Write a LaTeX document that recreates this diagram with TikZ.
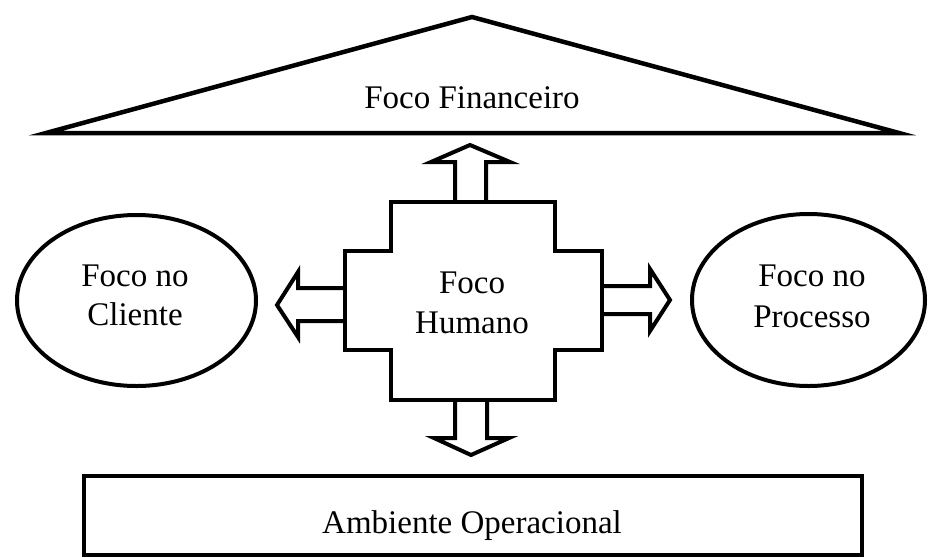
\documentclass[tikz,border=0pt]{standalone}
\usepackage{fontspec}
\setmainfont{Liberation Serif}
\usetikzlibrary{shapes.geometric}
\begin{document}
\begin{tikzpicture}[x=1pt,y=-1pt,
  lbl/.style={font=\fontsize{33}{39}\selectfont, anchor=base, inner sep=0pt, text=black},
  shapeline/.style={draw=black, line width=4.5pt, line join=miter},
  arrowline/.style={draw=black, line width=4pt, line join=miter},
  oval/.style={draw=black, ellipse, line width=4pt, inner sep=0pt}]
\useasboundingbox (0,0) rectangle (928,557);
\fill[white] (0,0) rectangle (928,557);

% Foco Financeiro (triangle)
\draw[shapeline] (46,133) -- (472,17) -- (899,133) -- cycle;
\node[lbl] (fin) at (472,108) {Foco Financeiro};

% Foco Humano (stepped cross)
\draw[shapeline] (391,202) -- (555,202) -- (555,251) -- (602,251) -- (602,350)
  -- (555,350) -- (555,400) -- (391,400) -- (391,350) -- (345,350) -- (345,251)
  -- (391,251) -- cycle;
\coordinate (hum) at (472,300);
\node[lbl] (hum1) at (472,293) {Foco};
\node[lbl] (hum2) at (472,333) {Humano};

% Foco no Cliente
\node[oval, minimum width=239pt, minimum height=171pt] (cli) at (136.5,300.5) {};
\node[lbl] (cli1) at (135,286) {Foco no};
\node[lbl] (cli2) at (135,325) {Cliente};

% Foco no Processo
\node[oval, minimum width=233pt, minimum height=172pt] (proc) at (808.5,300) {};
\node[lbl] (proc1) at (812,286) {Foco no};
\node[lbl] (proc2) at (812,327) {Processo};

% Ambiente Operacional
\draw[draw=black, line width=4pt] (84,476) rectangle (862,555);
\node[lbl] (amb) at (472,533) {Ambiente Operacional};

% block arrows
\draw[arrowline] (455,202) -- (455,162) -- (431,162) -- (470,145) -- (510,162) -- (486,162) -- (486,202);
\draw[arrowline] (455,400) -- (455,438) -- (434,438) -- (471,455) -- (509,438) -- (487,438) -- (487,400);
\draw[arrowline] (345,288) -- (298,288) -- (298,272) -- (277,305) -- (298,337) -- (298,321) -- (345,321);
\draw[arrowline] (602,286) -- (650,286) -- (650,269) -- (670,300) -- (650,331) -- (650,314) -- (602,314);
\end{tikzpicture}
\end{document}
